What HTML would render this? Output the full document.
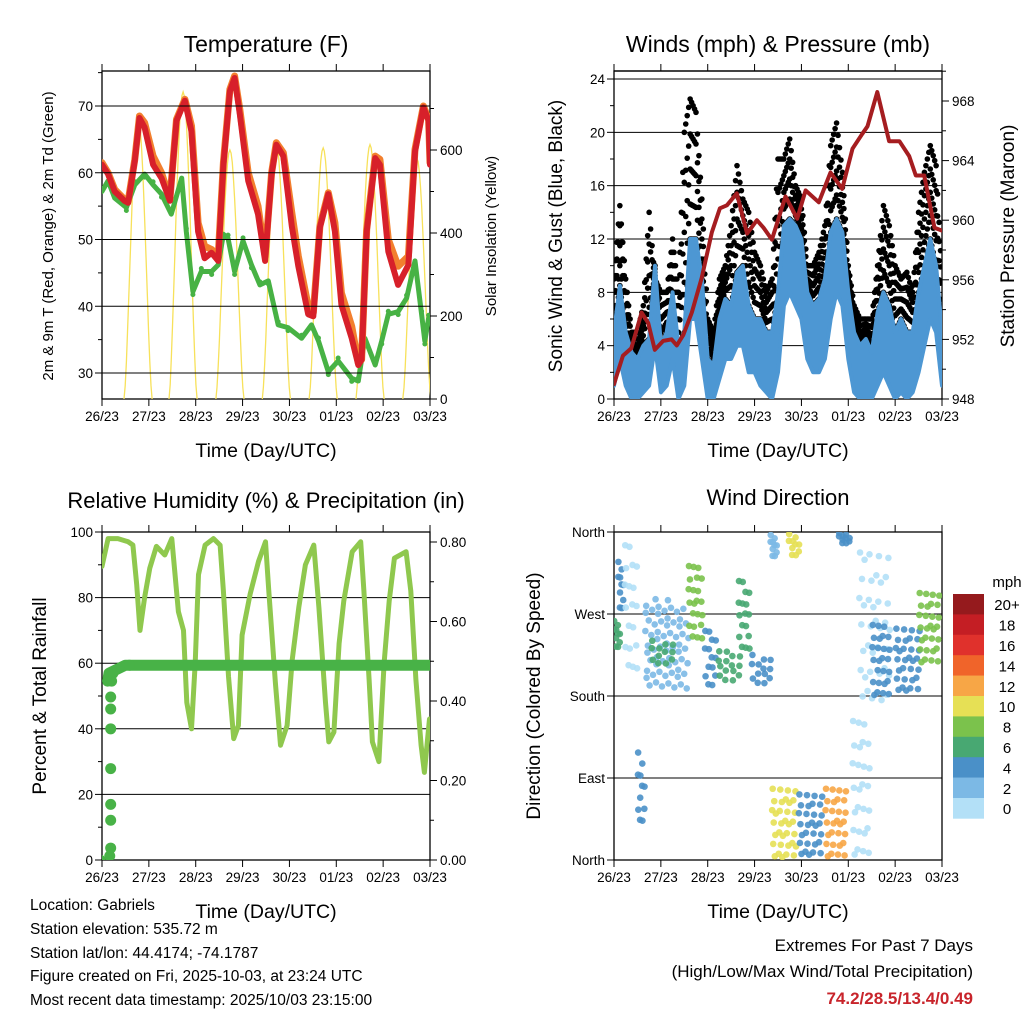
<!DOCTYPE html>
<html><head><meta charset="utf-8"><style>
html,body{margin:0;padding:0;background:#fff;}
svg{display:block;font-family:"Liberation Sans",sans-serif;}
</style></head><body>
<svg id="s" xmlns="http://www.w3.org/2000/svg" width="1024" height="1024" viewBox="0 0 1024 1024">
<rect width="1024" height="1024" fill="#fff"/>
<g id="g"></g>
<g font-size="15.5" fill="#000">
<text x="30" y="910">Location: Gabriels</text>
<text x="30" y="934">Station elevation: 535.72 m</text>
<text x="30" y="958">Station lat/lon: 44.4174; -74.1787</text>
<text x="30" y="981">Figure created on Fri, 2025-10-03, at 23:24 UTC</text>
<text x="30" y="1005">Most recent data timestamp: 2025/10/03 23:15:00</text>
</g>
<g text-anchor="end">
<text x="973" y="951" font-size="17">Extremes For Past 7 Days</text>
<text x="973" y="977" font-size="17">(High/Low/Max Wind/Total Precipitation)</text>
<text x="973" y="1004" font-size="17" font-weight="bold" fill="#c8242b">74.2/28.5/13.4/0.49</text>
</g>
</svg>
<script>
// ---------- Temperature data ----------
var tempTimes=[0,.13,.27,.48,.56,.70,.80,.91,1.09,1.27,1.45,1.59,1.77,1.91,2.05,2.19,2.34,2.48,2.59,2.73,2.83,2.94,3.12,3.33,3.48,3.62,3.72,3.87,4.05,4.19,4.40,4.51,4.65,4.83,4.97,5.11,5.33,5.47,5.54,5.65,5.83,5.93,6.11,6.32,6.54,6.68,6.86,6.97,7];
var temp2m=[61.2,59.8,57.2,55.8,55.5,61.8,68.2,66.8,61.2,59.2,55.8,67.8,70.8,66.2,51.2,47.2,48,46.8,61.2,72.2,74.2,68.8,58.8,53.8,46.8,59.8,64.2,62.5,52,46,38.8,38.5,51.8,56.8,51.2,40.2,35.2,31.2,32,51.2,62.2,61.2,48.2,43.2,46.2,63.2,69.8,67.8,61.2];
var temp9m=[61.5,60,57.5,56,55.8,62,68.5,67.5,62.5,60,56,68,71,67,52.5,49,48.5,47.5,61.5,72.5,74.5,69.5,60,55,47.5,60,64.5,63,54,47.5,40,39,52,57,52.5,42,37,31.5,32,51.5,62.5,62,50,46,47.5,63.5,70,68,61.5];
var dewTimes=[0,.13,.27,.52,.70,.91,1.09,1.27,1.48,1.70,1.80,1.94,2.12,2.34,2.48,2.59,2.69,2.83,3.01,3.19,3.37,3.55,3.76,3.97,4.26,4.47,4.62,4.83,5.04,5.33,5.47,5.61,5.83,5.97,6.11,6.32,6.50,6.68,6.82,6.89,6.97];
var dewPoint=[57.2,58.8,56.2,54.8,58.2,59.8,58.2,56.8,53.8,59.2,51.2,42.2,45.2,45.2,46.2,50.8,50.2,45.2,49.8,46.2,43.2,43.8,37.2,36.8,35.2,37.2,34.8,30.2,31.8,29.2,28.8,35.2,31.2,34.8,38.8,39.2,41.2,46.8,38.8,34.8,38.2];
var solarPeakTimes=[0.77,1.73,2.73,3.72,4.72,5.72,6.72];
var solarPeaks=[680,740,600,613,605,613,580];
// ---------- Wind data (bins every 3 h) ----------
var windHi=[5,8.5,5,3.5,3,4,4.5,10,4,5, 8,4,5,12,12,9,3,2.5,6,7.5, 7,9.5,10,7,6,6,5,5,8,13, 13.5,13,12,8,7,7.5,9,12.5,13.5,12.5, 8,5,4,4.5,3.5,6.5,8,7,5,6, 5,5,8,10,12,10,5];
var windLo=[1,3,1,0,0,0.5,1,4,0.5,1, 3,0,1,6,6,3,0,0,1.5,3, 3,4,4,2,2,1,0.5,0,2,7, 8,7,6,3,2,2,3,6,8,7, 3,0.5,0,0,0,1,2,1,0,0.5, 0,0.5,2,4,6,5,1];
var gustHi=[9,14.5,9,5,5,7,14,9,8,8, 12,8,20,22.5,21.5,15,6,5,9,10, 13,17.5,15,14,11,10,8,9,18,18, 19.5,16,15,10,10,11,13,19,20.7,17, 10,7,6,6,6,10,14.5,13,10,9, 9.5,8,14,17,19,17.5,9];
var presTimes=[0,.19,.37,.59,.73,.87,1.05,1.23,1.34,1.48,1.66,1.87,2.09,2.26,2.41,2.62,2.84,3.05,3.19,3.37,3.66,3.91,4.09,4.37,4.62,4.87,5.09,5.3,5.41,5.62,5.87,6.09,6.3,6.44,6.62,6.84,7];
var pressure=[949.0,950.9,951.4,953.8,953.1,951.3,951.9,952.0,951.6,952.3,953.8,956.1,959.2,960.8,961.0,961.8,959.1,960.0,959.5,958.7,961.6,960.1,962.0,961.2,963.2,962.1,964.8,965.8,966.3,968.6,965.3,965.3,964.3,963.0,963.0,959.5,959.3];
// ---------- RH / rain ----------
var rhTimes=[0,.13,.34,.56,.66,.74,.81,.91,1.02,1.16,1.34,1.49,1.63,1.74,1.81,1.91,1.99,2.06,2.2,2.38,2.52,2.59,2.7,2.81,2.91,2.99,3.16,3.34,3.49,3.56,3.7,3.81,3.95,4.06,4.2,4.34,4.52,4.63,4.77,4.84,4.95,5.06,5.16,5.34,5.52,5.59,5.7,5.77,5.91,6.02,6.13,6.24,6.49,6.59,6.7,6.81,6.88,6.99];
var rhValues=[89.5,98,98,97,96,84,70,80,89,95.6,93,98,75.7,70,48,40,60,87,96,98,96,82,56,37,41,68.6,81,91,97,82,54,35,41,61,77,90,96,77,48,36,39,66,79,94,97,82,55,36,30,60,79,92,94,82,55,35,26.7,43];
var rainTimes=[0,0.08,0.1,0.1,0.1,0.1,0.1,0.1,0.1,0.12,0.15,0.5,7];
var rainValues=[0,0.01,0.03,0.10,0.14,0.23,0.33,0.38,0.41,0.45,0.47,0.49,0.49];
// ---------- Wind direction clusters ----------
var dirStart=[0,0.09,0.23,0.51,0.66,0.8,1.59,1.94,2.23,2.66,2.94,3.34,3.37,3.73,3.94,4.51,4.8,5.09,5.23,5.51,6.01,6.51];
var dirEnd=[0.16,0.23,0.55,0.69,1.59,1.37,1.94,2.23,2.8,2.94,3.44,3.51,3.94,4.01,4.51,5.01,5.09,5.51,5.94,5.94,6.59,7.0];
var dirLo=[232,273,203,38,188,214,239,188,195,228,192,332,1,333,4,1,347,0,173,178,184,214];
var dirHi=[265,332,358,125,287,243,330,257,232,313,228,359,85,360,78,85,360,166,352,265,260,300];
var dirSpeed=[6,4,1,4,3,7,9,4,6,7,4,2,10,11,4,12,5,1,1,4,4,8];
var speedColors=["#b3e0f7","#7cb9e5","#4a90c8","#48a872","#7bc24c","#e6e055","#f7a646","#f0642a","#e0312c","#c41e24","#951a1d"];
var speedLabels=["0","2","4","6","8","10","12","14","16","18","20+"];
var dayLabels=["26/23","27/23","28/23","29/23","30/23","01/23","02/23","03/23"];

var NS="http://www.w3.org/2000/svg";
var G=document.getElementById("g");
function el(tag,attrs,parent){var e=document.createElementNS(NS,tag);for(var k in attrs)e.setAttribute(k,attrs[k]);(parent||G).appendChild(e);return e;}
function txt(x,y,s,size,anchor,parent,rot){var a={x:x,y:y,"font-size":size,"text-anchor":anchor||"middle"};if(rot)a.transform="rotate(-90 "+x+" "+y+")";var e=el("text",a,parent);e.textContent=s;return e;}
function mkPanel(x0,x1,y0,y1){return {x0:x0,x1:x1,y0:y0,y1:y1,X:function(t){return x0+t/7*(x1-x0);}};}
var P1=mkPanel(102,430,71,399),P2=mkPanel(614,942,71,399),P3=mkPanel(102,430,532,860),P4=mkPanel(614,942,532,860);
function lin(v0,v1,p0,p1){return function(v){return p0+(v-v0)/(v1-v0)*(p1-p0);};}
var yT=lin(30,70,373,106), yS=lin(0,600,399,150), yW=lin(0,24,399,79), yP=lin(948,968,399,101), yRH=lin(0,100,860,532), yR=lin(0,0.8,860,542), yD=lin(0,360,860,532);

function frame(P,name){
  var g=el("g",{});
  
  
  el("rect",{x:P.x0,y:P.y0,width:P.x1-P.x0,height:P.y1-P.y0,fill:"none",stroke:"#000","stroke-width":1.3},g);
  for(var i=0;i<8;i++){var x=P.X(i);
    el("line",{x1:x,x2:x,y1:P.y1,y2:P.y1+7,stroke:"#000"},g);
    el("line",{x1:x,x2:x,y1:P.y0,y2:P.y0-7,stroke:"#000"},g);
    var t=txt(x,P.y1+22,dayLabels[i],13.5,"middle",g);
    
    
  }
  var xt=txt((P.x0+P.x1)/2,P.y1+58,"Time (Day/UTC)",19.5,"middle",g);
  
  
  return g;
}
function leftAxis(P,g,vals,labels,yf,minors,grid){
  for(var i=0;i<vals.length;i++){var y=yf(vals[i]);
    el("line",{x1:P.x0-7,x2:P.x0,y1:y,y2:y,stroke:"#000"},g);
    if(grid)el("line",{x1:P.x0,x2:P.x1,y1:y,y2:y,stroke:"#000","stroke-width":1},g);
    var t=txt(P.x0-9,y+5,labels[i],13.5,"end",g);
    
    }
  for(var j=0;j<minors.length;j++){var y2=yf(minors[j]);el("line",{x1:P.x0-4,x2:P.x0,y1:y2,y2:y2,stroke:"#000"},g);}
}
function rightAxis(P,g,vals,labels,yf,minors){
  for(var i=0;i<vals.length;i++){var y=yf(vals[i]);
    el("line",{x1:P.x1,x2:P.x1+7,y1:y,y2:y,stroke:"#000"},g);
    var t=txt(P.x1+10,y+5,labels[i],13.5,"start",g);
    
    }
  for(var j=0;j<minors.length;j++){var y2=yf(minors[j]);el("line",{x1:P.x1,x2:P.x1+4,y1:y2,y2:y2,stroke:"#000"},g);}
}
function poly(ts,vs,P,yf,attrs,parent){var pts=[];for(var i=0;i<ts.length;i++)pts.push(P.X(ts[i]).toFixed(1)+","+yf(vs[i]).toFixed(1));attrs.points=pts.join(" ");attrs.fill="none";attrs["stroke-linejoin"]="round";attrs["stroke-linecap"]="round";return el("polyline",attrs,parent);}
function clip(P,id){var d=el("defs",{});var c=el("clipPath",{id:id},d);el("rect",{x:P.x0,y:P.y0,width:P.x1-P.x0,height:P.y1-P.y0},c);}

// ===== Panel 1: Temperature =====
clip(P1,"c1");
var g1=frame(P1,"temperature");
var d1=el("g",{"clip-path":"url(#c1)"},g1);


for(var k=0;k<solarPeaks.length;k++){
  var pts=[];for(var s=0;s<=24;s++){var f=s/24;var tt=solarPeakTimes[k]-0.3+f*0.6;var v=solarPeaks[k]*Math.pow(Math.sin(Math.PI*f),1.5);pts.push(P1.X(tt).toFixed(1)+","+yS(v).toFixed(1));}
  var sl=el("polyline",{points:pts.join(" "),fill:"none",stroke:"#f7e15a","stroke-width":1.3},d1);
  
  
}
leftAxis(P1,g1,[30,40,50,60,70],["30","40","50","60","70"],yT,[35,45,55,65,75],true);
rightAxis(P1,g1,[0,200,400,600],["0","200","400","600"],yS,[100,300,500,700]);
var dl=poly(dewTimes,dewPoint,P1,yT,{stroke:"#47b244","stroke-width":5},d1);


for(var i=0;i<dewTimes.length;i++){var c=el("circle",{cx:P1.X(dewTimes[i]),cy:yT(dewPoint[i])+((i%2)?3:-3),r:2.5,fill:"#47b244"},d1);

}
var ol=poly(tempTimes,temp9m,P1,yT,{stroke:"#f27f2e","stroke-width":7},d1);


var rl=poly(tempTimes,temp2m,P1,yT,{stroke:"#d7202a","stroke-width":6},d1);


var t1=txt(266,52,"Temperature (F)",23,"middle",g1);


var yl1=txt(53,236,"2m & 9m T (Red, Orange) & 2m Td (Green)",15,"middle",g1,true);


var yr1=txt(496,236,"Solar Insolation (Yellow)",15,"middle",g1,true);



// ===== Panel 2: Winds & Pressure =====
clip(P2,"c2");
var g2=frame(P2,"winds");
leftAxis(P2,g2,[0,4,8,12,16,20,24],["0","4","8","12","16","20","24"],yW,[2,6,10,14,18,22],true);
rightAxis(P2,g2,[948,952,956,960,964,968],["948","952","956","960","964","968"],yP,[950,954,958,962,966,970]);
var d2=el("g",{"clip-path":"url(#c2)"},g2);


var nb=windHi.length,binT=7/(nb-1);
for(var i=0;i<nb-1;i++){for(var q=0;q<4;q++){var f=q/4;var tt=(i+f)*binT;var lo=windHi[i]+(windHi[i+1]-windHi[i])*f;var hi=gustHi[i]+(gustHi[i+1]-gustHi[i])*f;
  for(var m=0;m<=4;m++){var v=lo+(hi-lo)*m/4;var c=el("circle",{cx:P2.X(tt),cy:yW(v),r:2.8,fill:"#000"},d2);
  
  }}}
var up=[],dn=[];for(var i=0;i<nb;i++){up.push(P2.X(i*binT).toFixed(1)+","+yW(windHi[i]).toFixed(1));dn.unshift(P2.X(i*binT).toFixed(1)+","+yW(windLo[i]).toFixed(1));}
var wa=el("polygon",{points:up.concat(dn).join(" "),fill:"#4d97d3",stroke:"#4d97d3","stroke-width":4,"stroke-linejoin":"round"},d2);


var pl=poly(presTimes,pressure,P2,yP,{stroke:"#a51d20","stroke-width":4},d2);


el("line",{x1:P2.x0,x2:P2.x1,y1:P2.y0,y2:P2.y0,stroke:"#000","stroke-width":1.3},g2);
var t2=txt(778,52,"Winds (mph) & Pressure (mb)",23,"middle",g2);


var yl2=txt(562,236,"Sonic Wind & Gust (Blue, Black)",19,"middle",g2,true);


var yr2=txt(1014,236,"Station Pressure (Maroon)",19,"middle",g2,true);



// ===== Panel 3: RH & Precip =====
clip(P3,"c3");
var g3=frame(P3,"humidity");
leftAxis(P3,g3,[0,20,40,60,80,100],["0","20","40","60","80","100"],yRH,[10,30,50,70,90],true);
rightAxis(P3,g3,[0,0.2,0.4,0.6,0.8],["0.00","0.20","0.40","0.60","0.80"],yR,[0.1,0.3,0.5,0.7]);
var d3=el("g",{"clip-path":"url(#c3)"},g3);


var rhl=poly(rhTimes,rhValues,P3,yRH,{stroke:"#8fc84e","stroke-width":5},d3);


var rnl=poly(rainTimes.slice(9),rainValues.slice(9),P3,yR,{stroke:"#48b247","stroke-width":11},d3);


for(var i=0;i<rainTimes.length;i++){var c=el("circle",{cx:P3.X(rainTimes[i])+(i==0?-2:4),cy:yR(rainValues[i]),r:5.5,fill:"#48b247"},d3);

}
var t3=txt(266,508,"Relative Humidity (%) & Precipitation (in)",22,"middle",g3);


var yl3=txt(46,696,"Percent & Total Rainfall",19,"middle",g3,true);



// ===== Panel 4: Wind direction =====
clip(P4,"c4");
var g4=frame(P4,"direction");
leftAxis(P4,g4,[0,90,180,270,360],["North","East","South","West","North"],yD,[],true);
var d4=el("g",{"clip-path":"url(#c4)"},g4);


for(var k=0;k<dirStart.length;k++){
  var w=dirEnd[k]-dirStart[k],h=dirHi[k]-dirLo[k];
  var n=Math.round(Math.max(10,Math.min(70,w*h*0.7)));
  if(dirSpeed[k]<2)n=Math.round(n*0.55);
  var col=speedColors[Math.min(10,Math.floor(dirSpeed[k]/2))];
  for(var j=0;j<n;j++){var fx=(0.5+j*0.7548776)%1,fy=(0.5+j*0.5698403)%1;
    var c=el("circle",{cx:P4.X(dirStart[k]+w*fx),cy:yD(dirLo[k]+h*fy),r:3.3,fill:col,opacity:0.9},d4);
    
    }
}
var t4=txt(778,505,"Wind Direction",22,"middle",g4);


var yl4=txt(540,696,"Direction (Colored By Speed)",19,"middle",g4,true);


var cb=el("g",{});


var cbTop=594,cbH=20.4;
for(var i=0;i<11;i++){var idx=10-i;
  var r=el("rect",{x:953,y:cbTop+i*cbH,width:31,height:cbH+0.3,fill:speedColors[idx]},cb);
  
  
  var l=txt(1007,cbTop+i*cbH+cbH/2+6,speedLabels[idx],15,"middle",cb);
  
  }
var mu=txt(1007,587,"mph",15,"middle",cb);


</script>
</body></html>
